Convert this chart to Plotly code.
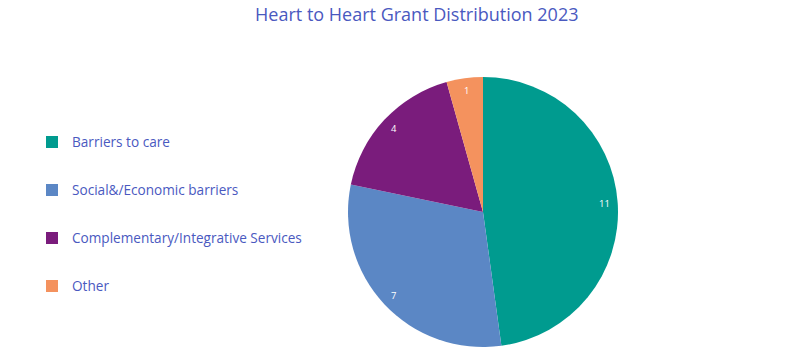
import math
import plotly.graph_objects as go

categories = ["Barriers to care", "Social&/Economic barriers",
              "Complementary/Integrative Services", "Other"]
values = [11, 7, 4, 1]
colors = ["#009b8f", "#5b87c5", "#7a1c7c", "#f4925e"]
title_text = "Heart to Heart Grant Distribution 2023"

W, H = 800, 353
CX, CY, R = 483, 212, 135  # pie centre and radius in px
LABEL_R = 0.905

legend_labels = ["&nbsp;<br><span style='font-size:13.6px'>%s</span><br>&nbsp;" % c for c in categories]

fig = go.Figure(go.Pie(
    labels=legend_labels,
    values=values,
    textinfo="none",
    marker=dict(colors=colors, line=dict(width=0)),
    sort=False,
    direction="clockwise",
    rotation=0,
    domain=dict(x=[(CX - R) / W, (CX + R) / W], y=[1 - (CY + R) / H, 1 - (CY - R) / H]),
    hoverinfo="label+value",
))

# value labels placed near the rim of each slice (angles derived from values)
total = sum(values)
cum = 0
annotations = []
for v in values:
    mid = (cum + v / 2) / total * 2 * math.pi
    cum += v
    px = CX + LABEL_R * R * math.sin(mid)
    py = CY - LABEL_R * R * math.cos(mid)
    annotations.append(dict(x=px / W, y=1 - py / H, xref="paper", yref="paper",
                            xanchor="center", yanchor="middle",
                            text=str(v), showarrow=False,
                            font=dict(family="Open Sans", size=9.5, color="white")))

fig.update_layout(
    width=W, height=H,
    margin=dict(l=0, r=0, t=0, b=0),
    paper_bgcolor="white",
    plot_bgcolor="white",
    title=dict(text=title_text, x=0.521, xanchor="center", y=1 - 15 / H, yanchor="middle",
               font=dict(family="Open Sans", size=18, color="#4a59bf")),
    legend=dict(x=0.04, xanchor="left", y=0.5 - 38 / H, yanchor="middle",
                font=dict(family="Open Sans", size=11.54, color="#4a59bf"),
                valign="middle", itemwidth=30, bgcolor="rgba(0,0,0,0)"),
    annotations=annotations,
    showlegend=True,
)

fig.write_html("out.html")
